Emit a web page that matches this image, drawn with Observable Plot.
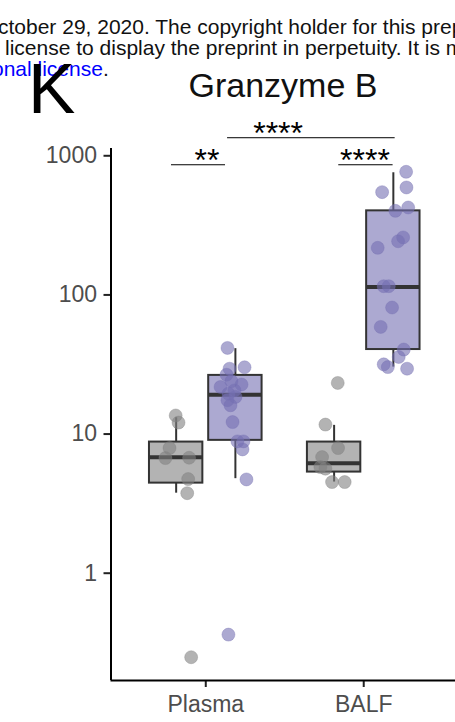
<!DOCTYPE html>
<html><head><meta charset="utf-8">
<script src="https://cdn.jsdelivr.net/npm/d3@7"></script>
<script src="https://cdn.jsdelivr.net/npm/@observablehq/plot@0.6"></script>
<style>
html,body{margin:0;padding:0;background:#fff}
body{width:455px;height:722px;overflow:hidden;position:relative;font-family:"Liberation Sans",Arial,sans-serif}
#chart{position:absolute;left:0;top:0}
.hdr{position:absolute;white-space:nowrap;font-size:21px;line-height:21px;color:#111}
.blue{color:#0000ff}
#panel{position:absolute;left:28px;top:53px;font-size:71px;line-height:71px;color:#000}
#title{position:absolute;left:0;width:566px;text-align:center;top:68px;font-size:34px;line-height:34px;color:#111}
</style></head><body>
<div id="chart"></div>
<div class="hdr" style="left:-2px;top:16px">ctober 29, 2020. The copyright holder for this preprint</div>
<div class="hdr" style="left:5px;top:37px">license to display the preprint in perpetuity. It is made available</div>
<div class="hdr" style="left:-8px;top:58px"><span class="blue">onal license</span>.</div>
<div id="panel">K</div>
<div id="title">Granzyme B</div>
<script>
// ---- data ----
const groups = ["Plasma", "BALF"];
const conditions = ["Control", "COVID-19"];

// box statistics (group index 1/2, condition 0/1)
const boxGroup = [1, 1, 2, 2];
const boxCond = [0, 1, 0, 1];
const boxLow = [3.76, 4.78, 4.52, 30.3];
const boxQ1 = [4.44, 9.01, 5.33, 40.5];
const boxMed = [6.80, 19.2, 6.18, 114];
const boxQ3 = [8.76, 26.4, 8.76, 402];
const boxHigh = [13.1, 41.1, 11.55, 755];

// individual points
const ptGroup = [
  1,1,1,1,1,1,1,1,
  1,1,1,1,1,1,1,1,1,1,1,1,1,1,1,1,1,1,
  2,2,2,2,2,2,2,2,
  2,2,2,2,2,2,2,2,2,2,2,2,2,2,2,2,2
];
const ptCond = [
  0,0,0,0,0,0,0,0,
  1,1,1,1,1,1,1,1,1,1,1,1,1,1,1,1,1,1,
  0,0,0,0,0,0,0,0,
  1,1,1,1,1,1,1,1,1,1,1,1,1,1,1,1,1
];
const ptValue = [
  13.6, 12.1, 7.93, 6.72, 6.76, 4.75, 3.76, 0.249,
  41.6, 30.2, 29.5, 26.7, 22.7, 21.8, 20.6, 19.5, 17.5, 16.1, 12.2, 8.86, 8.86, 7.76, 4.72, 0.362, 24.0, 18.5,
  23.3, 11.7, 7.93, 6.83, 5.79, 5.64, 4.52, 4.52,
  767, 548, 592, 425, 402, 259, 243, 218, 115.5, 115.5, 81.2, 58.9, 40.5, 35.8, 31.7, 30.3, 29.5
];
const ptJitter = [
  -0.003, 0.015, -0.042, -0.068, 0.082, 0.076, 0.070, 0.095,
  -0.050, 0.058, -0.037, -0.056, 0.039, -0.094, -0.006, -0.044, -0.050, -0.031, -0.018, 0.013, 0.051, 0.045, 0.070, -0.044, -0.025, 0.001,
  0.023, -0.055, 0.025, -0.076, -0.087, -0.055, -0.013, 0.067,
  0.081, -0.071, 0.083, 0.094, 0.013, 0.062, 0.030, -0.099, -0.061, -0.029, -0.008, -0.080, 0.066, 0.034, -0.061, -0.035, 0.087
];

// significance annotations
const sigX1 = [0.783, 1.842, 1.138];
const sigX2 = [1.125, 2.186, 2.199];
const sigY = [862, 862, 1348];
const sigLabelX = [1.0, 2.0, 1.45];
const sigText = ["**", "****", "****"];

const yTicks = [1, 10, 100, 1000];

// ---- tables ----
const dodge = [-0.1875, 0.1875];
const halfW = 0.169;
const fills = ["#808080", "#7570b3"];
const boxes = boxGroup.map((g, i) => ({
  x: g + dodge[boxCond[i]], cond: boxCond[i],
  low: boxLow[i], q1: boxQ1[i], med: boxMed[i], q3: boxQ3[i], high: boxHigh[i]
}));
const points = ptValue.map((v, i) => ({
  x: ptGroup[i] + dodge[ptCond[i]] + ptJitter[i], cond: ptCond[i], v
}));
const sig = sigText.map((t, i) => ({x1: sigX1[i], x2: sigX2[i], y: sigY[i], lx: sigLabelX[i], t}));

const chart = Plot.plot({
  width: 455,
  height: 722,
  marginLeft: 110.5,
  marginRight: -3,
  marginTop: 148,
  marginBottom: 42,
  style: {fontFamily: "Liberation Sans, Arial, sans-serif", background: "transparent", overflow: "visible"},
  x: {domain: [0.4, 2.6]},
  y: {type: "log", domain: [0.1694, 1128]},
  marks: [
    Plot.ruleX(boxes, {x: "x", y1: "low", y2: "q1", stroke: "#333", strokeWidth: 2}),
    Plot.ruleX(boxes, {x: "x", y1: "q3", y2: "high", stroke: "#333", strokeWidth: 2}),
    Plot.rect(boxes, {x1: d => d.x - halfW, x2: d => d.x + halfW, y1: "q1", y2: "q3",
      fill: d => fills[d.cond], fillOpacity: 0.6, stroke: "#333", strokeWidth: 2}),
    Plot.ruleY(boxes, {y: "med", x1: d => d.x - halfW, x2: d => d.x + halfW, stroke: "#333", strokeWidth: 4}),
    Plot.dot(points, {x: "x", y: "v", r: 6.5, fill: d => fills[d.cond], fillOpacity: 0.6,
      stroke: d => fills[d.cond], strokeOpacity: 0.35, strokeWidth: 1}),
    Plot.ruleY(sig, {y: "y", x1: "x1", x2: "x2", stroke: "#000", strokeWidth: 1}),
    Plot.text(sig, {x: "lx", y: "y", text: "t", fontSize: 32, fill: "#000", dy: -4, dx: 1.25,
      style: "letter-spacing:2.5px"}),
    Plot.axisY({ticks: yTicks, tickFormat: d => String(d), tickSize: 7, tickPadding: 7,
      fontSize: 23, fill: "#4d4d4d", stroke: "#222", strokeWidth: 2, label: null}),
    Plot.axisX({ticks: [1, 2], tickFormat: d => groups[d - 1], tickSize: 7, tickPadding: 8,
      fontSize: 23, fill: "#4d4d4d", stroke: "#222", strokeWidth: 2, label: null}),
    Plot.ruleX([0.4], {stroke: "#000", strokeWidth: 2}),
    Plot.ruleY([0.1694], {stroke: "#000", strokeWidth: 2})
  ]
});
document.getElementById("chart").appendChild(chart);
</script>
</body></html>
